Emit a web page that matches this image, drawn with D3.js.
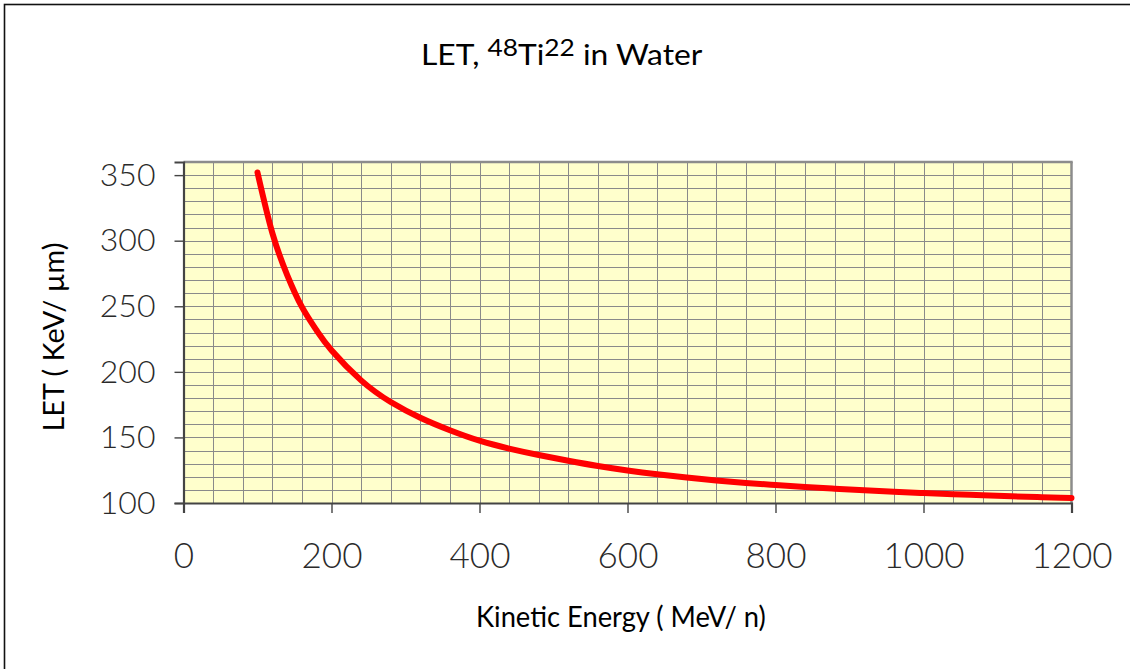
<!DOCTYPE html>
<html>
<head>
<meta charset="utf-8">
<script src="https://cdn.jsdelivr.net/npm/d3@7"></script>
<style>
  html, body { margin: 0; padding: 0; background: #fff; overflow: hidden; }
  svg { display: block; }
</style>
</head>
<body>
<svg id="chart" width="1130" height="669"></svg>
<script>
// Kinetic energy (MeV/n) and LET in water (keV/µm) for 48Ti
const energy = [100, 120, 140, 160, 180, 200, 240, 280, 320, 360, 400, 440, 480, 520, 560,
  600, 640, 680, 720, 760, 800, 840, 880, 920, 960, 1000, 1040, 1080, 1120, 1160, 1200];
const letValues = [352, 306, 274, 249.5, 231.5, 216.5, 193.5, 177, 165, 155.5, 147.5, 141.5, 136.6, 132.2, 128.2,
  124.8, 121.9, 119.4, 117.2, 115.3, 113.7, 112.2, 110.9, 109.7, 108.6, 107.6, 106.7, 105.9, 105.1, 104.4, 103.8];

const xTicks = [0, 200, 400, 600, 800, 1000, 1200];
const yTicks = [100, 150, 200, 250, 300, 350];
const xDomain = [0, 1200];
const yDomain = [100, 360];
const xGridStep = 40;
const yGridStep = 10;

const xTitle = "Kinetic Energy ( MeV/ n)";
const yTitle = "LET ( KeV/ µm)";

const svg = d3.select("#chart");
const plot = { left: 183.5, right: 1071.5, top: 162, bottom: 503 };

const x = d3.scaleLinear().domain(xDomain).range([plot.left, plot.right]);
const y = d3.scaleLinear().domain(yDomain).range([plot.bottom, plot.top]);

// outer frame (continues past the right and bottom edges)
svg.append("rect")
  .attr("x", 4.5).attr("y", 4.5)
  .attr("width", 1200).attr("height", 800)
  .attr("fill", "none").attr("stroke", "#111").attr("stroke-width", 1.6);

// plot background
svg.append("rect")
  .attr("x", plot.left).attr("y", plot.top)
  .attr("width", plot.right - plot.left).attr("height", plot.bottom - plot.top)
  .attr("fill", "#ffffcc");

// grid
const grid = svg.append("g").attr("stroke", "#8a8a8a").attr("stroke-width", 1);
grid.selectAll("line.v")
  .data(d3.range(xDomain[0] + xGridStep, xDomain[1], xGridStep))
  .join("line").attr("class", "v")
  .attr("x1", d => Math.round(x(d)) + 0.5).attr("x2", d => Math.round(x(d)) + 0.5)
  .attr("y1", plot.top).attr("y2", plot.bottom);
grid.selectAll("line.h")
  .data(d3.range(yDomain[0] + yGridStep, yDomain[1], yGridStep))
  .join("line").attr("class", "h")
  .attr("y1", d => Math.round(y(d)) + 0.5).attr("y2", d => Math.round(y(d)) + 0.5)
  .attr("x1", plot.left).attr("x2", plot.right);

// top and right frame of the plot area
svg.append("line")
  .attr("x1", plot.left).attr("x2", plot.right + 1.2)
  .attr("y1", plot.top).attr("y2", plot.top)
  .attr("stroke", "#8c8c8c").attr("stroke-width", 2.5);
svg.append("line")
  .attr("x1", plot.right).attr("x2", plot.right)
  .attr("y1", plot.top).attr("y2", plot.bottom)
  .attr("stroke", "#8c8c8c").attr("stroke-width", 2.5);

// axes
const tickFont = "Lato, 'Open Sans', sans-serif";

const xAxis = svg.append("g")
  .attr("transform", `translate(0,${plot.bottom})`)
  .call(d3.axisBottom(x).tickValues(xTicks).tickSize(10).tickPadding(30).tickFormat(d3.format("d")));
const yAxis = svg.append("g")
  .attr("transform", `translate(${plot.left},0)`)
  .call(d3.axisLeft(y).tickValues(yTicks).tickSize(9).tickPadding(19).tickFormat(d3.format("d")));

[xAxis, yAxis].forEach(g => {
  g.select(".domain").attr("stroke", "#444").attr("stroke-width", 2.2);
  g.selectAll(".tick line").attr("stroke", "#444").attr("stroke-width", 1.4);
  g.selectAll(".tick text")
    .attr("fill", "#2a2a2a")
    .attr("font-family", tickFont)
    .attr("font-weight", 300);
});
xAxis.selectAll(".tick text").attr("font-size", 35);
yAxis.selectAll(".tick text").attr("font-size", 32);

// LET curve
const line = d3.line()
  .x((d, i) => x(energy[i]))
  .y(d => y(d))
  .curve(d3.curveNatural);

svg.append("path")
  .datum(letValues)
  .attr("d", line)
  .attr("fill", "none")
  .attr("stroke", "#ff0000")
  .attr("stroke-width", 6)
  .attr("stroke-linecap", "round")
  .attr("stroke-linejoin", "round");

// fit a text group horizontally to a given width, centred on cx
function fitText(g, cx, width) {
  const bb = g.node().getBBox();
  const s = width / bb.width;
  g.attr("transform", `translate(${cx},0) scale(${s},1) translate(${-(bb.x + bb.width / 2)},0)`);
}

const labelFont = "Lato, 'Open Sans', sans-serif";

// chart title with mass number and atomic number
const titleG = svg.append("g");
const title = titleG.append("text")
  .attr("y", 65)
  .attr("font-family", labelFont)
  .attr("font-size", 29)
  .attr("fill", "#000");
title.append("tspan").text("LET, ");
title.append("tspan").attr("font-size", 24).attr("dy", -9).text("48");
title.append("tspan").attr("dy", 9).text("Ti");
title.append("tspan").attr("font-size", 24).attr("dy", -9).text("22");
title.append("tspan").attr("dy", 9).text(" in Water");
fitText(titleG, 562, 282);

// x axis title
const xTitleG = svg.append("g");
xTitleG.append("text")
  .attr("y", 627)
  .attr("font-family", labelFont)
  .attr("font-size", 29)
  .attr("fill", "#000")
  .text(xTitle);
fitText(xTitleG, 621, 290);

// y axis title
const yTitleOuter = svg.append("g").attr("transform", "translate(64,337) rotate(-90)");
const yTitleG = yTitleOuter.append("g");
yTitleG.append("text")
  .attr("y", 0)
  .attr("font-family", labelFont)
  .attr("font-size", 29)
  .attr("fill", "#000")
  .text(yTitle);
fitText(yTitleG, 0, 189);
</script>
</body>
</html>
